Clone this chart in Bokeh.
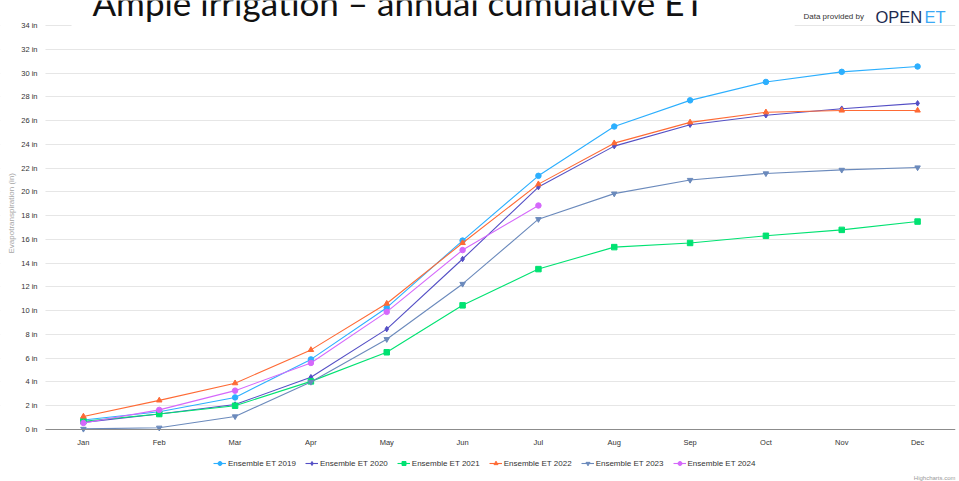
import math
from bokeh.plotting import figure
from bokeh.models import Range1d, Label, Legend, LegendItem, FixedTicker, BoxAnnotation
from bokeh.embed import file_html
from bokeh.resources import INLINE

months = ["Jan", "Feb", "Mar", "Apr", "May", "Jun", "Jul", "Aug", "Sep", "Oct", "Nov", "Dec"]
y_ticks = list(range(0, 35, 2))

et_2019 = [0.8, 1.5, 2.7, 5.9, 10.25, 15.9, 21.35, 25.5, 27.7, 29.25, 30.1, 30.55]
et_2020 = [0.6, 1.3, 2.1, 4.4, 8.45, 14.35, 20.4, 23.85, 25.65, 26.45, 27.0, 27.45]
et_2021 = [0.7, 1.3, 2.0, 4.05, 6.5, 10.45, 13.5, 15.35, 15.7, 16.3, 16.8, 17.5]
et_2022 = [1.1, 2.45, 3.9, 6.7, 10.6, 15.7, 20.65, 24.1, 25.85, 26.7, 26.85, 26.85]
et_2023 = [0.05, 0.15, 1.1, 4.0, 7.6, 12.25, 17.7, 19.85, 21.0, 21.55, 21.85, 22.05]
et_2024 = [0.55, 1.65, 3.27, 5.6, 9.9, 15.1, 18.85]

series = [
    ("Ensemble ET 2019", et_2019, "#2caffe", "circle"),
    ("Ensemble ET 2020", et_2020, "#544fc5", "diamond"),
    ("Ensemble ET 2021", et_2021, "#00e272", "square"),
    ("Ensemble ET 2022", et_2022, "#fe6a35", "triangle"),
    ("Ensemble ET 2023", et_2023, "#6b8abc", "inverted_triangle"),
    ("Ensemble ET 2024", et_2024, "#d568fb", "circle"),
]

FONT = "Liberation Sans"

# frame covers x 0..955, y 0..481 ; category -0.5 at x=45, value 0 at y=429, 34 at y=25
p = figure(width=959, height=481, output_backend="svg", toolbar_location=None,
           x_range=Range1d(-1.0934, 11.5), y_range=Range1d(-4.376, 36.105),
           min_border_left=0, min_border_right=4, min_border_top=0, min_border_bottom=0)
p.outline_line_color = None
p.background_fill_color = "white"
p.border_fill_color = "white"

p.xgrid.visible = False
p.ygrid.ticker = FixedTicker(ticks=y_ticks[1:])
p.ygrid.grid_line_color = "#e6e6e6"
p.ygrid.grid_line_width = 1

# hide grid lines left of the plotting area
p.add_layout(BoxAnnotation(right=-0.5, fill_color="white", fill_alpha=1,
                           line_color=None, level="underlay"))

p.xaxis.fixed_location = 0
p.xaxis.bounds = (-0.5, 11.5)
p.xaxis.ticker = FixedTicker(ticks=list(range(12)))
p.xaxis.major_label_overrides = {i: m for i, m in enumerate(months)}
p.xaxis.major_tick_line_color = None
p.xaxis.major_tick_out = 0
p.xaxis.major_tick_in = 0
p.xaxis.minor_tick_line_color = None
p.xaxis.minor_tick_out = 0
p.xaxis.axis_line_color = "#8c8c8c"
p.xaxis.axis_line_width = 1
p.xaxis.major_label_standoff = 8
p.xaxis.major_label_text_font = FONT
p.xaxis.major_label_text_font_size = "7.5px"
p.xaxis.major_label_text_color = "#333333"

p.yaxis.fixed_location = -0.5
p.yaxis.ticker = FixedTicker(ticks=y_ticks)
p.yaxis.major_label_overrides = {t: f"{t} in" for t in y_ticks}
p.yaxis.axis_line_color = None
p.yaxis.major_tick_line_color = None
p.yaxis.major_tick_out = 0
p.yaxis.major_tick_in = 0
p.yaxis.minor_tick_line_color = None
p.yaxis.minor_tick_out = 0
p.yaxis.major_label_standoff = 8
p.yaxis.major_label_text_font = FONT
p.yaxis.major_label_text_font_size = "7.5px"
p.yaxis.major_label_text_color = "#333333"

items = []
for name, vals, color, marker in series:
    xs = list(range(len(vals)))
    r1 = p.line(xs, vals, line_color=color, line_width=1.1)
    r2 = p.scatter(xs, vals, marker=marker, size=5.5, fill_color=color, line_color=color)
    items.append(LegendItem(label=name, renderers=[r1, r2]))

legend = Legend(items=items, orientation="horizontal", location=(213, 13),
                border_line_color=None, background_fill_alpha=0, padding=0, margin=0,
                spacing=9, glyph_width=13, glyph_height=10, label_standoff=2,
                label_height=10, label_text_font=FONT, label_text_font_size="8px",
                label_text_color="#333333")
p.add_layout(legend)

# white backing of the overlaid slide title (hides part of the top grid line)
p.add_layout(BoxAnnotation(left=-0.157, right=9.38, bottom=33.5, top=36.1,
                           fill_color="white", fill_alpha=1, line_color=None))

# y axis title
p.add_layout(Label(x=-0.948, y=18.2, x_units="data", y_units="data",
                   text="Evapotranspiration (in)", angle=math.pi / 2,
                   text_font=FONT, text_font_size="8px", text_color="#a6a6a6",
                   text_align="center", text_baseline="middle"))

p.add_layout(Label(x=92, y=36.02, x_units="screen", y_units="data",
                   text="Ample irrigation \u2013 annual cumulative ET",
                   text_font="Lato", text_font_size="35px", text_color="#111111",
                   text_baseline="alphabetic", text_align="left"))
p.add_layout(Label(x=803, y=34.75, x_units="screen", y_units="data",
                   text="Data provided by", text_font=FONT, text_font_size="8px",
                   text_color="#333333", text_baseline="alphabetic"))
p.add_layout(Label(x=875, y=34.75, x_units="screen", y_units="data",
                   text="OPEN", text_font=FONT, text_font_size="16.5px",
                   text_color="#1d2b4f", text_baseline="alphabetic"))
p.add_layout(Label(x=924, y=34.75, x_units="screen", y_units="data",
                   text="ET", text_font=FONT, text_font_size="16.5px",
                   text_color="#3ba9f5", text_baseline="alphabetic"))
p.add_layout(Label(x=955, y=4, x_units="screen", y_units="screen",
                   text="Highcharts.com", text_font=FONT, text_font_size="6px",
                   text_color="#999999", text_baseline="alphabetic", text_align="right"))

open("out.html", "w").write(file_html(p, INLINE))
